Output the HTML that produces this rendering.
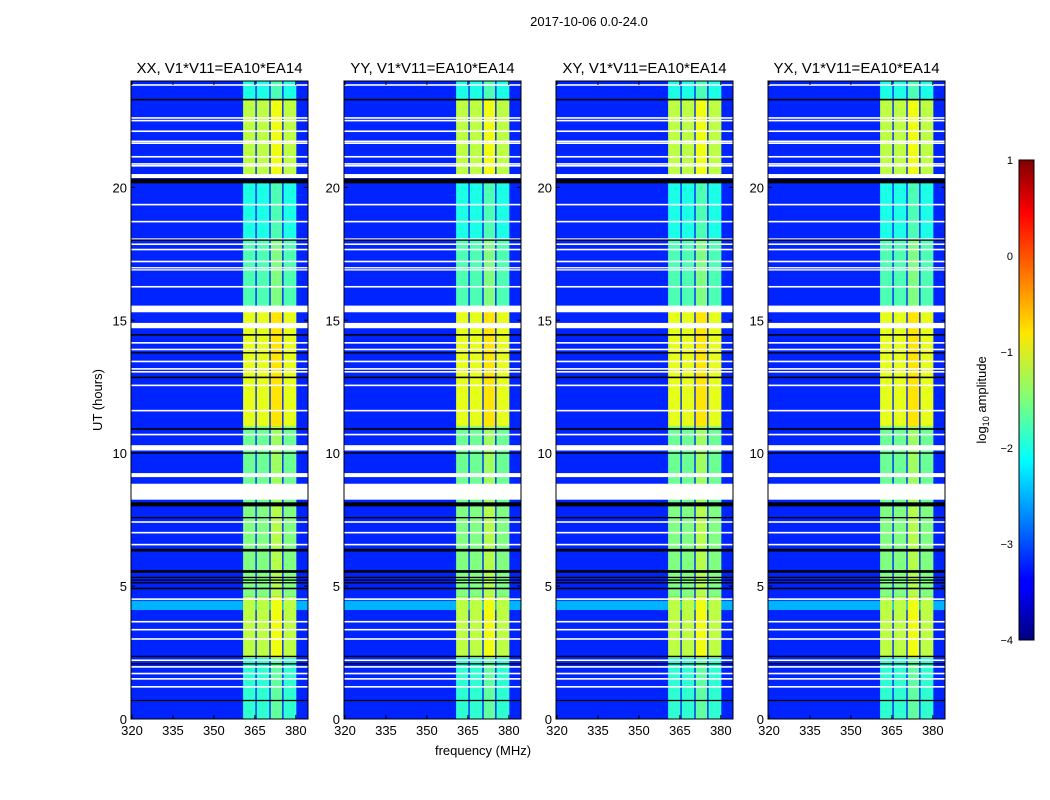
<!DOCTYPE html>
<html><head><meta charset="utf-8"><style>
body{margin:0;background:#fff;}
svg{display:block;font-family:"Liberation Sans",sans-serif;}
</style></head><body>
<svg id="fig" width="1050" height="800">
<text x="589" y="26" font-size="13" text-anchor="middle">2017-10-06 0.0-24.0</text>
<text x="483" y="755" font-size="13" text-anchor="middle">frequency (MHz)</text>
<text transform="translate(102,400) rotate(-90)" font-size="13" text-anchor="middle">UT (hours)</text>
<g id="panels"></g>
<defs><linearGradient id="jet" x1="0" y1="1" x2="0" y2="0">
<stop offset="0" stop-color="#00007f"/><stop offset="0.11" stop-color="#0000ff"/><stop offset="0.125" stop-color="#0000ff"/>
<stop offset="0.34" stop-color="#00dcff"/><stop offset="0.375" stop-color="#00ffff"/><stop offset="0.5" stop-color="#7dff7a"/>
<stop offset="0.64" stop-color="#ffe600"/><stop offset="0.75" stop-color="#ff8000"/><stop offset="0.89" stop-color="#ff0000"/><stop offset="1" stop-color="#800000"/>
</linearGradient></defs>
<rect x="1019" y="160" width="15" height="480" fill="url(#jet)" stroke="#000"/>
<g id="cbticks" font-size="11"></g>
<text transform="translate(986,400) rotate(-90)" font-size="13" text-anchor="middle">log<tspan font-size="9" dy="3">10</tspan><tspan dy="-3"> amplitude</tspan></text>
</svg>
<script>
const panelTitles=["XX, V1*V11=EA10*EA14","YY, V1*V11=EA10*EA14","XY, V1*V11=EA10*EA14","YX, V1*V11=EA10*EA14"];
const xTicks=[320,335,350,365,380];
const yTicks=[0,5,10,15,20];
const cbTicks=[1,0,-1,-2,-3,-4];
const bgLevel=0.16;
const subBands=[[360.7,365.2,0],[365.7,370.3,0],[370.8,375.0,0.05],[375.5,380.2,0]];
const bandPeriods=[[0,2.3,0.42],[2.3,4.6,0.56],[4.6,8,0.5],[8,11,0.48],[11,15.5,0.6],[15.5,18,0.45],[18,20.2,0.4],[20.4,23.3,0.56],[23.3,24,0.4]];
const lightStripes=[[4.1,4.45,0.3]];
const whiteBands=[[23.82,23.88],[22.58,22.64],[22.48,22.54],[22.08,22.14],[21.7,21.76],[21.63,21.69],[21.12,21.18],[20.85,20.91],[20.78,20.84],[20.35,20.5],[19.32,19.38],[18.68,18.74],[18.02,18.08],[17.83,17.89],[17.63,17.69],[17.18,17.24],[16.95,17.0],[16.87,16.92],[16.23,16.29],[15.3,15.55],[14.7,14.9],[14.12,14.18],[13.87,13.93],[13.42,13.48],[13.14,13.2],[13.03,13.09],[12.52,12.58],[11.57,11.63],[10.67,10.73],[10.1,10.3],[9.1,9.25],[8.25,8.85],[7.38,7.44],[6.98,7.04],[6.53,6.59],[4.48,4.54],[3.63,3.69],[3.33,3.39],[2.98,3.04],[2.18,2.24],[1.93,1.99],[1.68,1.74],[1.48,1.54],[1.18,1.24]];
const blackBands=[[23.27,23.33],[20.15,20.32],[18.0,18.04],[14.42,14.48],[13.75,13.8],[12.82,12.88],[10.88,10.94],[9.98,10.03],[8.0,8.15],[7.55,7.6],[6.3,6.4],[5.5,5.6],[5.3,5.35],[5.2,5.25],[5.1,5.15],[4.88,4.94],[2.33,2.38],[2.05,2.1],[0.68,0.72]];

const NS="http://www.w3.org/2000/svg";
function jet(v){const c=t=>Math.round(255*Math.max(0,Math.min(1,1.5-Math.abs(t))));return `rgb(${c(4*v-3)},${c(4*v-2)},${c(4*v-1)})`;}
function mk(tag,attrs,parent){const e=document.createElementNS(NS,tag);for(const k in attrs)e.setAttribute(k,attrs[k]);parent.appendChild(e);return e;}
const panelLeft=[131,344,556,768],W=177,top0=81,bot=719;
const xScale=(f,L)=>L+1+(f-320)*2.73;
const yScale=h=>bot-h*(bot-top0)/24;
const root=document.getElementById('panels');
panelTitles.forEach((t,i)=>{
  const L=panelLeft[i];
  const g=mk('g',{},root);
  
  
  const bg=mk('rect',{x:L,y:top0,width:W,height:bot-top0,fill:jet(bgLevel)},g);
  
  
  lightStripes.forEach(s=>{const r=mk('rect',{x:L,y:yScale(s[1]),width:W,height:yScale(s[0])-yScale(s[1]),fill:jet(s[2])},g);
    
    });
  bandPeriods.forEach(p=>subBands.forEach(b=>{
    const r=mk('rect',{x:xScale(b[0],L),y:yScale(p[1]),width:xScale(b[1],L)-xScale(b[0],L),height:yScale(p[0])-yScale(p[1]),fill:jet(p[2]+b[2])},g);
    
    
  }));
  whiteBands.forEach(w=>{const r=mk('rect',{x:L,y:yScale(w[1]),width:W,height:Math.max(1.3,yScale(w[0])-yScale(w[1])),fill:'#fff'},g);
    
    });
  blackBands.forEach(w=>{const r=mk('rect',{x:L,y:yScale(w[1]),width:W,height:Math.max(1.3,yScale(w[0])-yScale(w[1])),fill:'#000'},g);
    
    });
  const fr=mk('rect',{x:L,y:top0,width:W,height:bot-top0,fill:'none',stroke:'#000','stroke-width':1},g);
  
  
  const tt=mk('text',{x:L+W/2,y:73,'font-size':15,'text-anchor':'middle'},g);tt.textContent=t;
  
  
  xTicks.forEach(v=>{const x=xScale(v,L);
    mk('line',{x1:x,x2:x,y1:bot,y2:bot-4,stroke:'#000'},g);mk('line',{x1:x,x2:x,y1:top0,y2:top0+4,stroke:'#000'},g);
    const tx=mk('text',{x:x,y:bot+16,'font-size':13,'text-anchor':'middle'},g);tx.textContent=v;
    
    });
  yTicks.forEach(v=>{const y=yScale(v);
    mk('line',{x1:L,x2:L+4,y1:y,y2:y,stroke:'#000'},g);mk('line',{x1:L+W,x2:L+W-4,y1:y,y2:y,stroke:'#000'},g);
    const ty=mk('text',{x:L-4,y:y+5,'font-size':13,'text-anchor':'end'},g);ty.textContent=v;
    
    });
});
const cb=document.getElementById('cbticks');
cbTicks.forEach(v=>{const y=160+(1-v)*96;
  const t=mk('text',{x:1013,y:y+4,'text-anchor':'end'},cb);t.textContent=v<0?'\u2212'+(-v):v;
  
  });
</script>
</body></html>
